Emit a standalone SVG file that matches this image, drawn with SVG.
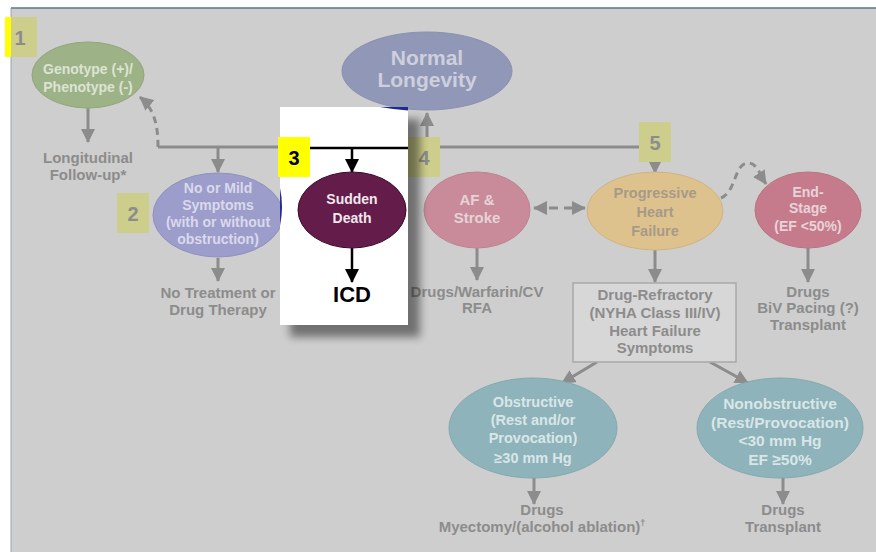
<svg xmlns="http://www.w3.org/2000/svg" width="876" height="552" viewBox="0 0 876 552">
<style>
text{font-family:"Liberation Sans",Arial,sans-serif;font-weight:bold;text-anchor:middle}
.g{fill:#8c8c8c;font-size:15px}
.gl{stroke:#8c8c8c;stroke-width:3;fill:none}
.bl{stroke:#000;stroke-width:2.5;fill:none}
.lab{fill:#cdcd8c}
.labt{fill:#8c8c8c;font-size:20px}
</style>
<defs>
<marker id="ag" markerUnits="userSpaceOnUse" markerWidth="14" markerHeight="14" refX="13" refY="7" orient="auto-start-reverse"><path d="M0,0 L14,7 L0,14 z" fill="#8c8c8c"/></marker>
<marker id="ab" markerUnits="userSpaceOnUse" markerWidth="14" markerHeight="14" refX="13" refY="7" orient="auto"><path d="M0,0 L14,7 L0,14 z" fill="#000"/></marker>
<filter id="sh" x="-20%" y="-20%" width="140%" height="140%"><feGaussianBlur stdDeviation="4"/></filter>
</defs>
<rect x="0" y="0" width="876" height="552" fill="#fff"/>
<rect x="11" y="8" width="865" height="544" fill="#cecece"/>
<line x1="11" y1="8" x2="876" y2="8" stroke="#5a7494" stroke-width="1.5"/>
<line x1="11" y1="8" x2="11" y2="552" stroke="#9aa4b4" stroke-width="1"/>

<g id="label1"><rect x="5" y="17" width="6" height="40" fill="#ffff00"/><rect class="lab" x="11" y="17" width="26" height="40"/><text class="labt" x="20" y="45">1</text></g>

<g id="connectors">
<path class="gl" d="M88,108 V142" marker-end="url(#ag)"/>
<path class="gl" d="M158,147 H639"/>
<path class="gl" d="M158,147 C158,122 153,108 140,97" stroke-dasharray="7,5" marker-end="url(#ag)"/>
<path class="gl" d="M218,147 V172" marker-end="url(#ag)"/>
<path class="gl" d="M218,258 V281" marker-end="url(#ag)"/>
<path class="gl" d="M427,147 V113" marker-end="url(#ag)"/>
<path class="gl" d="M477,247 V280" marker-end="url(#ag)"/>
<path class="gl" d="M534,208 H585" stroke-dasharray="9,6" marker-start="url(#ag)" marker-end="url(#ag)"/>
<path class="gl" d="M655,160 V173" marker-end="url(#ag)"/>
<path class="gl" d="M655,250 V282" marker-end="url(#ag)"/>
<path class="gl" d="M721,198 C736,192 734,165 747,163 C757,162 760,175 766,184" stroke-dasharray="7,5" marker-end="url(#ag)"/>
<path class="gl" d="M808,248 V282" marker-end="url(#ag)"/>
<path class="gl" d="M597,362 L562,383" marker-end="url(#ag)"/>
<path class="gl" d="M710,362 L748,383" marker-end="url(#ag)"/>
<path class="gl" d="M534,478 V504" marker-end="url(#ag)"/>
<path class="gl" d="M783,478 V504" marker-end="url(#ag)"/>
</g>

<g id="genotype"><ellipse cx="88" cy="75" rx="56" ry="33" fill="#9db387" stroke="#90a67c"/>
<text x="88" y="74" font-size="14" fill="#dce3d4">Genotype (+)/</text><text x="88" y="92" font-size="14" fill="#dce3d4">Phenotype (-)</text></g>
<g id="followup"><text class="g" x="88" y="163">Longitudinal</text><text class="g" x="88" y="180">Follow-up*</text></g>

<g id="longevity"><ellipse cx="427" cy="71" rx="85" ry="39" fill="#9197b7" stroke="#8a90b0"/>
<text x="427" y="65" font-size="21" fill="#cdd0dc">Normal</text><text x="427" y="87" font-size="21" fill="#cdd0dc">Longevity</text></g>

<g id="mild"><ellipse cx="218" cy="215" rx="65" ry="42" fill="#9d9dcc" stroke="#9090c0"/>
<text x="218" y="193" font-size="14" fill="#d9d9ea">No or Mild</text><text x="218" y="210" font-size="14" fill="#d9d9ea">Symptoms</text><text x="218" y="227" font-size="14" fill="#d9d9ea">(with or without</text><text x="218" y="244" font-size="14" fill="#d9d9ea">obstruction)</text></g>
<g id="label2"><rect class="lab" x="117" y="193" width="32" height="40"/><text class="labt" x="133" y="221">2</text></g>
<g id="notreat"><text class="g" x="218" y="298">No Treatment or</text><text class="g" x="218" y="315">Drug Therapy</text></g>

<g id="af"><ellipse cx="477" cy="210" rx="53" ry="38" fill="#c98b99" stroke="#bd8290"/>
<text x="477" y="205" font-size="15" fill="#e6d2d7">AF &amp;</text><text x="477" y="223" font-size="15" fill="#e6d2d7">Stroke</text></g>
<g id="aftx"><text class="g" x="477" y="297">Drugs/Warfarin/CV</text><text class="g" x="477" y="313">RFA</text></g>

<g id="label5"><rect class="lab" x="639" y="122" width="32" height="40"/><text class="labt" x="655" y="150">5</text></g>
<g id="progressive"><ellipse cx="655" cy="211" rx="68" ry="39" fill="#dec28e" stroke="#cfb483"/>
<text x="655" y="198" font-size="14.5" fill="#a69a88">Progressive</text><text x="655" y="217" font-size="14.5" fill="#a69a88">Heart</text><text x="655" y="236" font-size="14.5" fill="#a69a88">Failure</text></g>

<g id="endstage"><ellipse cx="808" cy="210" rx="53" ry="38" fill="#c67b8c" stroke="#b97283"/>
<text x="808" y="197" font-size="14" fill="#e8d3d8">End-</text><text x="808" y="213" font-size="14" fill="#e8d3d8">Stage</text><text x="808" y="231" font-size="14" fill="#e8d3d8">(EF &lt;50%)</text></g>
<g id="endtx"><text class="g" x="808" y="297">Drugs</text><text class="g" x="808" y="313">BiV Pacing (?)</text><text class="g" x="808" y="330">Transplant</text></g>

<g id="refractory"><rect x="573" y="283" width="163" height="79" fill="#d7d7d7" stroke="#a9a9a9" stroke-width="1.5"/>
<text class="g" x="655" y="300" font-size="15.5">Drug-Refractory</text><text class="g" x="655" y="318" font-size="15.5">(NYHA Class III/IV)</text><text class="g" x="655" y="336" font-size="15.5">Heart Failure</text><text class="g" x="655" y="353" font-size="15.5">Symptoms</text></g>

<g id="obstructive"><ellipse cx="533" cy="428" rx="84" ry="50" fill="#8eb3ba" stroke="#84a8ae"/>
<text x="533" y="407" font-size="14.5" fill="#d9e6e8">Obstructive</text><text x="533" y="425" font-size="14.5" fill="#d9e6e8">(Rest and/or</text><text x="533" y="443" font-size="14.5" fill="#d9e6e8">Provocation)</text><text x="533" y="463" font-size="14.5" fill="#d9e6e8">≥30 mm Hg</text></g>
<g id="obstx"><text class="g" x="542" y="515" font-size="14">Drugs</text><text class="g" x="542" y="532" font-size="14">Myectomy/(alcohol ablation)<tspan font-size="9" dy="-6">†</tspan></text></g>

<g id="nonobstructive"><ellipse cx="780" cy="428" rx="83" ry="50" fill="#8eb3ba" stroke="#84a8ae"/>
<text x="780" y="409" font-size="15.5" fill="#d9e6e8">Nonobstructive</text><text x="780" y="428" font-size="15.5" fill="#d9e6e8">(Rest/Provocation)</text><text x="780" y="446" font-size="15.5" fill="#d9e6e8">&lt;30 mm Hg</text><text x="780" y="465" font-size="15.5" fill="#d9e6e8">EF ≥50%</text></g>
<g id="nonobstx"><text class="g" x="783" y="515" font-size="14">Drugs</text><text class="g" x="783" y="532" font-size="14">Transplant</text></g>

<g id="label4"><rect class="lab" x="408" y="137" width="32" height="40"/><text class="labt" x="424" y="165">4</text></g>

<g id="highlight">
<rect x="290" y="119" width="130" height="218" fill="#000" opacity="0.45" filter="url(#sh)"/>
<rect x="280" y="107" width="128" height="218" fill="#fff"/>
<path d="M380,107 H408 V110.5 Q394,109.5 380,107 z" fill="#1c2a8c"/>
<path d="M280,188 Q284,206 280,226 z" fill="#2a2a9a"/>
<path class="bl" d="M280,148 H408"/>
<path class="bl" d="M352,148 V172" marker-end="url(#ab)"/>
<path class="bl" d="M352,248 V282" marker-end="url(#ab)"/>
<g id="label3"><rect x="278" y="137" width="32" height="40" fill="#ffff00"/><text x="294" y="165" font-size="20" fill="#000">3</text></g>
<g id="sudden"><ellipse cx="352" cy="210" rx="54" ry="38" fill="#641c4a" stroke="#3a0a28"/>
<text x="352" y="204" font-size="14" fill="#f2e8ee">Sudden</text><text x="352" y="223" font-size="14" fill="#f2e8ee">Death</text></g>
<g id="icd"><text x="352" y="302" font-size="22" fill="#000">ICD</text></g>
</g>
</svg>
